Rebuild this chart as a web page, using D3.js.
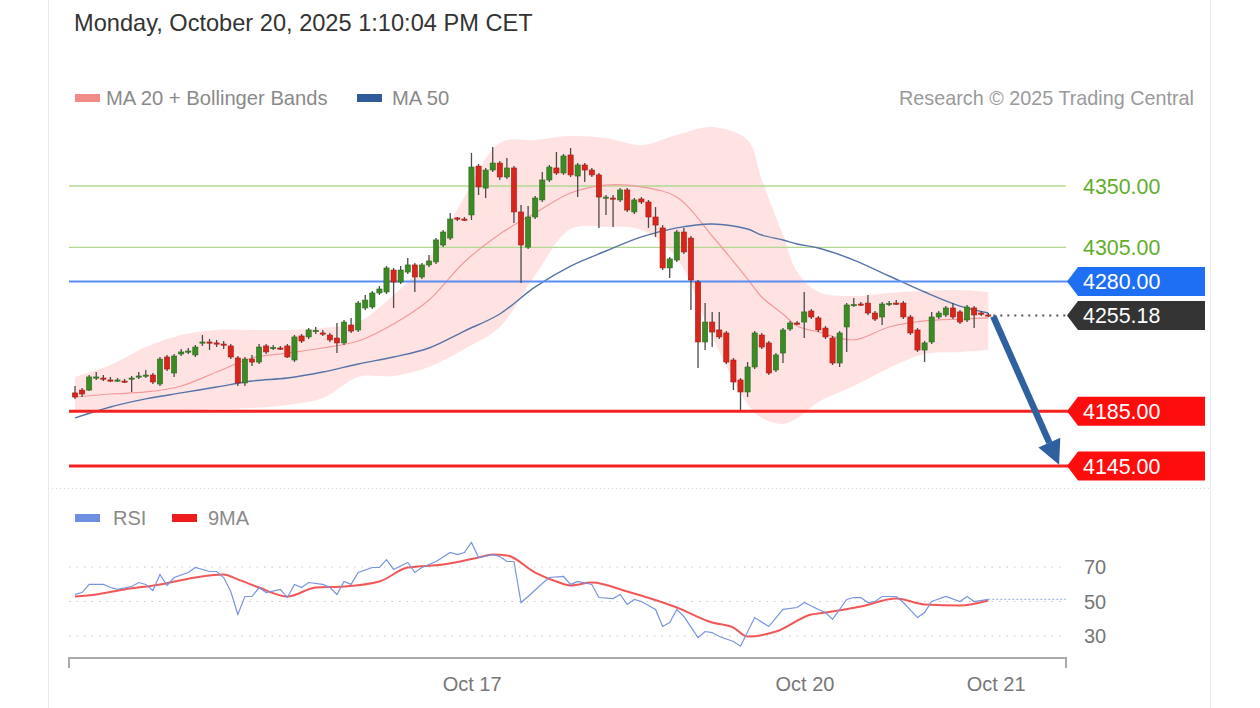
<!DOCTYPE html>
<html><head><meta charset="utf-8">
<script src="https://cdn.jsdelivr.net/npm/d3@7"></script>
<style>
html,body{margin:0;padding:0;background:#fff;}
svg{display:block;font-family:"Liberation Sans",Arial,sans-serif;}
</style></head><body>
<svg id="c" width="1260" height="708"></svg>
<script>
// ---------- DATA ----------
const opens=[4198.5,4200.6,4200.6,4209.4,4209.4,4208.0,4207.2,4207.2,4208.7,4210.2,
4210.9,4211.6,4205.0,4224.8,4213.1,4227.0,4228.5,4226.3,4235.1,4235.8,
4235.1,4234.3,4232.9,4224.1,4205.8,4223.3,4221.1,4232.9,4231.4,4231.4,
4232.9,4222.6,4240.2,4239.5,4243.8,4242.4,4240.9,4238.7,4235.1,4248.2,
4244.6,4260.7,4261.4,4271.7,4272.4,4288.5,4279.7,4287.0,4292.2,4283.4,
4292.2,4294.4,4306.8,4311.9,4326.6,4325.8,4328.8,4364.6,4348.5,4361.7,
4366.8,4356.6,4363.2,4331.0,4305.3,4327.3,4339.8,4354.4,4363.2,4359.5,
4372.7,4357.3,4365.4,4361.7,4358.1,4341.2,4341.2,4339.8,4347.1,4331.0,
4340.5,4338.3,4327.3,4319.3,4290.0,4295.8,4316.3,4311.9,4279.7,4235.8,
4250.4,4244.6,4242.4,4222.6,4208.0,4199.2,4217.5,4240.9,4235.1,4215.3,
4227.7,4245.3,4249.7,4250.4,4258.5,4253.4,4246.0,4238.7,4220.4,4246.8,
4262.9,4263.6,4264.3,4257.0,4254.1,4263.6,4264.3,4264.3,4254.1,4244.6,
4229.9,4235.8,4254.1,4255.6,4260.7,4257.8,4251.9,4260.7,4257.0,4255.6];
const highs=[4203.6,4202.1,4211.6,4213.8,4211.6,4210.2,4209.4,4208.7,4210.9,4213.8,
4215.3,4213.1,4224.8,4226.3,4227.0,4230.7,4231.4,4233.6,4240.9,4238.0,
4237.3,4236.5,4234.3,4225.5,4224.8,4226.3,4234.3,4234.3,4233.6,4232.9,
4234.3,4240.9,4241.6,4246.0,4246.8,4244.6,4242.4,4249.7,4251.9,4253.4,
4265.8,4270.2,4273.1,4276.8,4291.4,4290.0,4291.4,4297.3,4293.6,4293.6,
4299.5,4311.9,4317.8,4330.2,4327.3,4327.3,4374.2,4366.1,4363.2,4378.6,
4368.3,4370.5,4364.6,4336.1,4335.4,4342.7,4360.2,4365.4,4374.9,4373.4,
4377.8,4366.8,4366.8,4363.2,4359.5,4343.4,4343.4,4348.5,4348.5,4341.2,
4341.9,4339.8,4334.6,4321.4,4298.0,4317.8,4319.3,4313.4,4281.2,4264.3,
4257.8,4257.8,4243.8,4224.1,4209.4,4221.1,4243.8,4242.4,4236.5,4227.7,
4246.0,4251.2,4251.2,4272.4,4260.0,4254.8,4247.5,4240.2,4243.8,4264.3,
4268.0,4265.1,4270.2,4258.5,4265.1,4265.8,4266.5,4265.8,4255.6,4246.0,
4236.5,4257.8,4258.5,4262.1,4264.3,4259.2,4262.9,4262.1,4258.5,4257.0];
const lows=[4194.1,4195.5,4199.9,4208.0,4207.2,4206.5,4206.5,4205.8,4199.2,4208.7,
4209.4,4205.0,4203.6,4214.6,4210.2,4225.5,4227.0,4224.8,4232.9,4229.9,
4232.1,4230.7,4223.3,4203.6,4203.6,4218.2,4219.7,4227.0,4229.9,4229.9,
4224.1,4221.1,4235.1,4238.0,4241.6,4240.2,4235.8,4227.7,4233.6,4242.4,
4243.1,4259.2,4260.0,4270.2,4270.9,4260.7,4278.3,4285.6,4272.4,4281.9,
4290.7,4292.9,4305.3,4310.5,4324.4,4324.4,4325.1,4343.4,4341.2,4360.2,
4354.4,4355.1,4322.9,4279.0,4303.9,4325.8,4338.3,4352.9,4358.1,4358.1,
4356.6,4341.9,4352.9,4356.6,4319.3,4328.8,4320.0,4338.3,4331.0,4329.5,
4336.8,4319.3,4312.7,4288.5,4282.6,4294.4,4300.2,4259.2,4216.8,4229.9,
4232.1,4238.0,4219.7,4200.6,4186.0,4195.5,4216.0,4230.7,4211.6,4213.8,
4220.4,4243.8,4248.2,4238.7,4252.6,4243.1,4238.0,4218.9,4217.5,4228.5,
4261.4,4262.1,4255.6,4251.2,4248.2,4262.1,4262.9,4252.6,4240.9,4228.5,
4221.1,4234.3,4252.6,4254.1,4252.6,4249.0,4250.4,4246.0,4254.8,4254.1];
const closes=[4195.5,4197.7,4210.2,4210.2,4208.7,4207.6,4208.0,4206.9,4209.4,4210.9,
4211.6,4206.5,4223.3,4216.0,4225.5,4228.5,4229.2,4232.1,4235.8,4235.1,
4234.7,4233.6,4224.8,4205.8,4223.3,4221.1,4232.1,4228.5,4231.8,4231.0,
4224.8,4239.5,4236.5,4244.6,4244.2,4242.0,4237.3,4235.1,4250.4,4243.8,
4264.3,4266.5,4271.7,4274.6,4290.0,4279.7,4288.5,4292.2,4283.4,4292.2,
4295.1,4310.5,4316.3,4325.8,4325.8,4325.5,4363.9,4349.3,4361.7,4366.8,
4356.6,4363.2,4331.0,4306.8,4327.3,4341.2,4354.4,4363.9,4359.5,4372.0,
4358.1,4365.4,4361.7,4358.1,4341.9,4341.9,4340.8,4347.1,4332.4,4339.8,
4338.3,4327.3,4321.4,4290.0,4296.6,4316.3,4301.7,4281.2,4235.8,4250.4,
4243.1,4239.5,4221.1,4206.5,4199.2,4217.5,4242.4,4232.1,4213.1,4226.3,
4244.6,4249.7,4249.3,4257.8,4254.1,4244.6,4239.5,4220.4,4242.4,4262.9,
4263.2,4263.2,4257.0,4252.6,4263.6,4264.0,4264.0,4254.1,4242.4,4229.9,
4235.1,4254.1,4257.0,4260.7,4254.1,4250.4,4261.4,4255.6,4256.3,4255.18];

const bandIdx=[0,5,10,15,20,25,30,35,40,45,50,55,60,65,70,75,80,85,90,95,97,100,102,105,110,115,120,125,129];
const bbUpper=[4210.2,4218.9,4232.1,4240.9,4244.6,4244.6,4244.6,4246.0,4250.4,4270.2,4297.3,4341.9,4381.5,4383.7,4386.6,4385.1,4380.0,4387.3,4393.2,4383.7,4354.4,4314.1,4287.0,4272.4,4269.5,4271.7,4273.1,4273.9,4272.4];
const bbLower=[4186.0,4186.0,4186.0,4186.0,4186.7,4187.5,4189.7,4194.8,4210.2,4210.9,4217.5,4230.7,4246.8,4284.8,4318.5,4320.0,4317.8,4297.3,4239.5,4190.4,4180.2,4175.8,4180.2,4191.9,4203.6,4216.8,4227.0,4228.5,4229.9];
const ma20=[4195.5,4197.7,4199.2,4203.6,4213.8,4224.1,4227.7,4231.4,4236.5,4249.0,4266.5,4294.4,4314.9,4330.2,4344.9,4350.7,4349.3,4341.9,4313.4,4281.9,4268.7,4256.3,4247.5,4243.1,4237.3,4246.8,4251.2,4252.6,4253.4];
const ma50=[4180.2,4188.2,4194.1,4198.5,4202.8,4207.2,4209.4,4213.8,4219.7,4224.8,4231.4,4243.8,4256.3,4276.1,4291.4,4302.4,4312.7,4319.3,4322.2,4318.5,4314.1,4310.5,4307.5,4304.6,4295.8,4284.1,4272.4,4262.1,4257.0];

const rsiIdx=[0,1,2,4,5,6,8,9,10,11,12,13,14,16,17,19,20,21,22,23,24,25,26,27,29,30,31,32,33,35,36,37,38,39,40,42,43,44,45,47,48,49,51,53,54,55,56,57,59,60,61,62,63,64,66,67,69,70,71,73,74,76,77,78,79,80,82,83,84,85,86,88,89,90,91,93,94,96,98,100,102,103,105,106,107,109,110,111,112,113,114,116,117,119,120,121,123,125,126,127,129];
const rsiVal=[54.1,55.2,59.9,59.9,58.1,57.0,58.7,61.0,59.9,56.4,65.7,59.3,63.9,66.8,69.7,67.4,67.4,63.9,55.8,42.5,52.9,52.9,58.1,55.2,57.0,52.3,59.9,58.1,61.0,59.9,58.1,54.1,61.6,59.9,66.8,69.7,69.7,74.3,68.6,72.6,66.8,69.7,73.2,78.4,77.2,78.4,84.2,75.5,77.2,76.1,73.2,73.2,49.4,52.9,60.4,63.9,64.5,59.9,61.6,59.9,52.3,51.7,54.1,48.3,51.2,50.0,45.4,35.5,37.8,45.4,41.3,29.1,32.6,32.0,29.7,26.8,24.1,40.7,35.5,45.4,46.5,49.4,45.4,43.6,39.6,51.2,52.3,52.3,49.4,50.0,52.9,52.9,49.4,40.7,43.6,50.0,52.9,50.0,52.9,50.0,51.2];
const rsiMaIdx=[0,3,7,12,17,21,23,26,30,34,38,43,47,52,57,59,61,65,68,70,73,78,85,90,93,95,99,104,106,111,116,120,125,129];
const rsiMaVal=[52.9,54.1,57.0,59.9,63.9,65.7,62.8,58.1,52.9,58.1,58.7,61.6,69.7,71.4,75.5,77.2,76.7,66.8,61.6,59.3,61.0,55.8,46.5,37.8,34.9,29.7,32.6,42.5,43.6,47.1,51.7,48.3,47.7,50.6];

const resistances=[4350,4305];
const pivotLevel=4280;
const supports=[4185,4145];
const lastPrice=4255.18;
const arrowFrom=[129.7,4254.5], arrowTo=[139,4146];
const rsiLevels=[70,50,30];
const xTickIdx=[56.1,103.1,130.1];
const xTickLabels=["Oct 17","Oct 20","Oct 21"];
const titleText="Monday, October 20, 2025 1:10:04 PM CET";

// ---------- SCALES ----------
const svg=d3.select("#c");
const x=d3.scaleLinear().domain([0,129]).range([75,988.3]);
const y=d3.scaleLinear().domain([4145,4350]).range([466,186]);
const yr=d3.scaleLinear().domain([30,70]).range([636,567]);
const plotL=69, plotR=1066;

// card borders / separator
svg.append("line").attr("x1",48.5).attr("x2",48.5).attr("y1",0).attr("y2",708).attr("stroke","#ebebeb");
svg.append("line").attr("x1",1210.5).attr("x2",1210.5).attr("y1",0).attr("y2",708).attr("stroke","#ebebeb");
svg.append("line").attr("x1",48).attr("x2",1210).attr("y1",488.5).attr("y2",488.5)
  .attr("stroke","#d8d8d8").attr("stroke-dasharray","1,3");

// title
svg.append("text").attr("x",74).attr("y",31).attr("font-size",23.6).attr("fill","#333").text(titleText);

// legend
const leg=svg.append("g").attr("font-size",20.2).attr("fill","#8a8a8a");
leg.append("rect").attr("x",75).attr("y",94).attr("width",25).attr("height",8).attr("fill","#f28a8a");
leg.append("text").attr("x",106).attr("y",105).text("MA 20 + Bollinger Bands");
leg.append("rect").attr("x",357).attr("y",94).attr("width",25).attr("height",8).attr("fill","#2f5b98");
leg.append("text").attr("x",392).attr("y",105).text("MA 50");
leg.append("text").attr("x",1194).attr("y",105).attr("text-anchor","end").attr("font-size",19.8).attr("fill","#9a9a9a").text("Research \u00a9 2025 Trading Central");

// bollinger band
const bandData=bandIdx.map((d,k)=>({i:d,u:bbUpper[k],l:bbLower[k],m:ma20[k],m50:ma50[k]}));
svg.append("path").datum(bandData)
  .attr("d",d3.area().x(d=>x(d.i)).y0(d=>y(d.l)).y1(d=>y(d.u)).curve(d3.curveCatmullRom))
  .attr("fill","#ffe3e3");

// level lines
resistances.forEach(v=>{
  svg.append("line").attr("x1",plotL).attr("x2",plotR).attr("y1",y(v)).attr("y2",y(v))
    .attr("stroke","#b2d88f").attr("stroke-width",1.3);
  svg.append("text").attr("x",1083).attr("y",y(v)+7.5).attr("font-size",21.4).attr("fill","#5fae2a").text(v.toFixed(2));
});

// MA lines
svg.append("path").datum(bandData)
  .attr("d",d3.line().x(d=>x(d.i)).y(d=>y(d.m)).curve(d3.curveCatmullRom))
  .attr("fill","none").attr("stroke","#f49a9a").attr("stroke-width",1.2);
svg.append("path").datum(bandData)
  .attr("d",d3.line().x(d=>x(d.i)).y(d=>y(d.m50)).curve(d3.curveCatmullRom))
  .attr("fill","none").attr("stroke","#5673a8").attr("stroke-width",1.4);

// pivot line
svg.append("line").attr("x1",plotL).attr("x2",1070).attr("y1",y(pivotLevel)).attr("y2",y(pivotLevel))
  .attr("stroke","#5b8cf2").attr("stroke-width",2);
// support lines
supports.forEach(v=>{
  svg.append("line").attr("x1",plotL).attr("x2",1070).attr("y1",y(v)).attr("y2",y(v))
    .attr("stroke","#f52222").attr("stroke-width",3);
});

// candles
const candles=opens.map((o,i)=>({i,o,h:highs[i],l:lows[i],c:closes[i]}));
const cg=svg.append("g");
cg.selectAll("line.w").data(candles).join("line")
  .attr("x1",d=>x(d.i)).attr("x2",d=>x(d.i)).attr("y1",d=>y(d.h)).attr("y2",d=>y(d.l))
  .attr("stroke","#4a4a4a").attr("stroke-width",1.3);
cg.selectAll("rect").data(candles).join("rect")
  .attr("x",d=>x(d.i)-2.6).attr("width",5.2)
  .attr("y",d=>y(Math.max(d.o,d.c)))
  .attr("height",d=>Math.max(1.2,Math.abs(y(d.o)-y(d.c))))
  .attr("fill",d=>d.c>=d.o?"#3b8a26":"#d8261c")
  .attr("stroke",d=>d.c>=d.o?"#2c6b1c":"#a61c14").attr("stroke-width",0.6);

// current price dotted line
svg.append("line").attr("x1",x(129)+5).attr("x2",1068).attr("y1",y(lastPrice)).attr("y2",y(lastPrice))
  .attr("stroke","#555").attr("stroke-width",2).attr("stroke-dasharray","2,5");

// label boxes
function tag(v,fill,txt){
  const yc=y(v), x0=1067, x1=1205, hh=14.5;
  svg.append("path").attr("d",`M${x0},${yc}L${x0+11},${yc-hh}L${x1},${yc-hh}L${x1},${yc+hh}L${x0+11},${yc+hh}Z`).attr("fill",fill);
  svg.append("text").attr("x",1083).attr("y",yc+7.5).attr("font-size",21.4).attr("fill","#fff").text(txt);
}
tag(pivotLevel,"#1f6ff5",pivotLevel.toFixed(2));
tag(lastPrice,"#333333",lastPrice.toFixed(2));
supports.forEach(v=>tag(v,"#ff0d0d",v.toFixed(2)));

// arrow
{
  const ax0=x(arrowFrom[0]), ay0=y(arrowFrom[1]), ax1=x(arrowTo[0]), ay1=y(arrowTo[1]);
  const ang=Math.atan2(ay1-ay0,ax1-ax0), hl=24, hw=12;
  const bx=ax1-hl*Math.cos(ang), by=ay1-hl*Math.sin(ang);
  svg.append("line").attr("x1",ax0).attr("y1",ay0).attr("x2",bx).attr("y2",by)
    .attr("stroke","#2f609f").attr("stroke-width",6.5);
  const px=-Math.sin(ang), py=Math.cos(ang);
  svg.append("path").attr("d",`M${ax1},${ay1}L${bx+px*hw},${by+py*hw}L${bx-px*hw},${by-py*hw}Z`).attr("fill","#2f609f");
}

// ---------- RSI PANEL ----------
const rl=svg.append("g").attr("font-size",20).attr("fill","#8a8a8a");
rl.append("rect").attr("x",75).attr("y",514).attr("width",25).attr("height",8).attr("fill","#6f8fe0");
rl.append("text").attr("x",113).attr("y",525).text("RSI");
rl.append("rect").attr("x",172).attr("y",514).attr("width",25).attr("height",8).attr("fill","#ee1c1c");
rl.append("text").attr("x",208).attr("y",525).text("9MA");

rsiLevels.forEach(v=>{
  svg.append("line").attr("x1",plotL).attr("x2",plotR).attr("y1",yr(v)).attr("y2",yr(v))
    .attr("stroke","#c8c8c8").attr("stroke-width",1.2).attr("stroke-dasharray","1.5,6");
  svg.append("text").attr("x",1084).attr("y",yr(v)+7).attr("font-size",20).attr("fill","#777").text(v);
});
svg.append("line").attr("x1",x(129)).attr("x2",plotR).attr("y1",yr(rsiVal[rsiVal.length-1])).attr("y2",yr(rsiVal[rsiVal.length-1]))
  .attr("stroke","#a9bbe8").attr("stroke-width",1.2).attr("stroke-dasharray","2,2");

const rsiData=rsiIdx.map((d,k)=>({i:d,v:rsiVal[k]}));
const rsiMaData=rsiMaIdx.map((d,k)=>({i:d,v:rsiMaVal[k]}));
svg.append("path").datum(rsiMaData)
  .attr("d",d3.line().x(d=>x(d.i)).y(d=>yr(d.v)).curve(d3.curveMonotoneX))
  .attr("fill","none").attr("stroke","#f03a3a").attr("stroke-width",2).attr("opacity",0.85);
svg.append("path").datum(rsiData)
  .attr("d",d3.line().x(d=>x(d.i)).y(d=>yr(d.v)))
  .attr("fill","none").attr("stroke","#7894e0").attr("stroke-width",1.2);

// x axis
svg.append("path").attr("d",`M${plotL},668V658H${plotR}V668`).attr("fill","none").attr("stroke","#aaa").attr("stroke-width",2);
xTickIdx.forEach((t,k)=>{
  svg.append("text").attr("x",x(t)).attr("y",691).attr("text-anchor","middle").attr("font-size",20).attr("fill","#777").text(xTickLabels[k]);
});
</script>
</body></html>
